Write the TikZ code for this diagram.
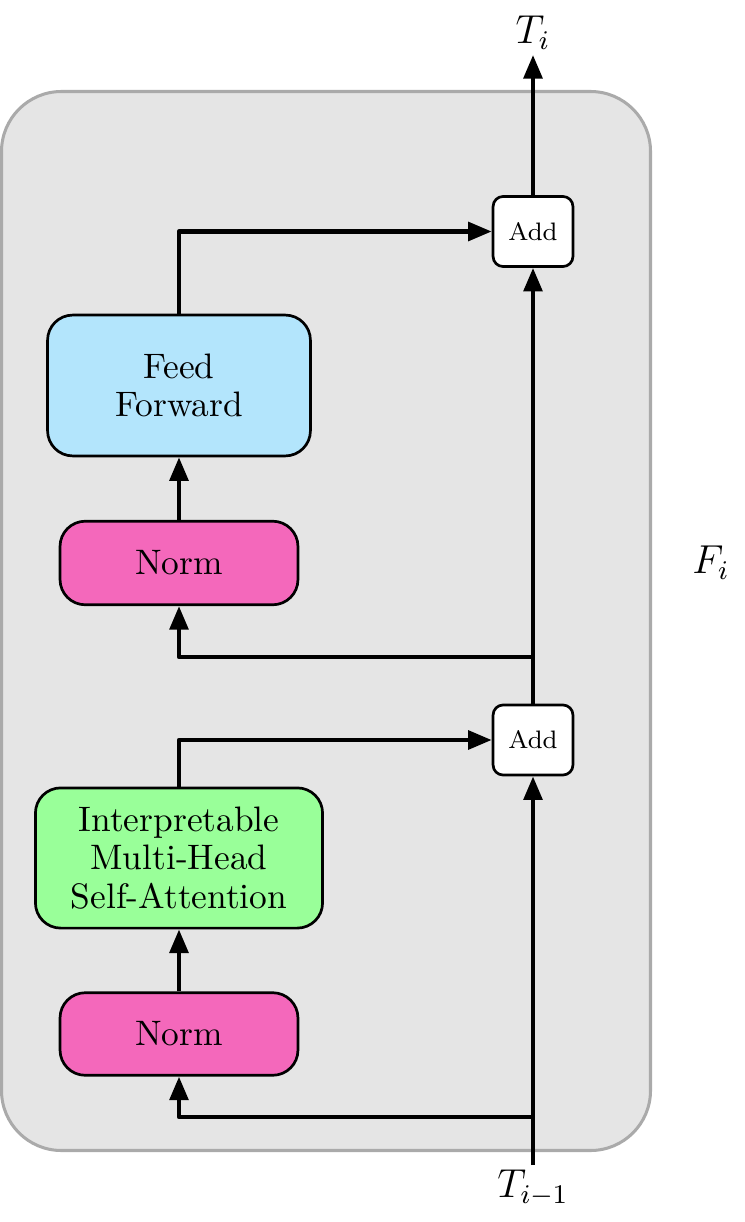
\documentclass[tikz,border=0pt]{standalone}
\usepackage{tikz}
\usetikzlibrary{arrows.meta,calc}
\definecolor{normpink}{HTML}{F468BB}
\definecolor{ffblue}{HTML}{B3E5FC}
\definecolor{attngreen}{HTML}{99FF99}
\definecolor{blockgray}{HTML}{E5E5E5}
\definecolor{blockedge}{HTML}{AAAAAA}
\tikzset{
    layerbox/.style={draw=black,line width=0.8pt,rounded corners=7.5pt,align=center,inner sep=2pt,font=\fontsize{10.5}{11.5}\selectfont},
    addbox/.style={draw=black,fill=white,line width=0.8pt,rounded corners=3pt,minimum width=23.7pt,minimum height=20.8pt,inner sep=1pt,font=\fontsize{7.5}{9}\selectfont},
    flow/.style={line width=1.3pt,-{Triangle[length=7pt,width=5.5pt]}}
}
\begin{document}
\begin{tikzpicture}[line join=round,x=0.2967pt,y=-0.2967pt]
                \useasboundingbox (0,0) rectangle (745,1222);
                \draw [fill=blockgray,draw=blockedge,line width=0.9pt,rounded corners=17.8pt] (1.5,91.5) rectangle (650.5,1150.5);
                % layers
                \node [layerbox,fill=normpink,minimum width=70.6pt,minimum height=24.5pt] (norma) at (179,1034) {Norm};
                \node [layerbox,fill=attngreen,minimum width=85.2pt,minimum height=41.6pt] (attn) at (179,858) {Interpretable\\Multi-Head\\Self-Attention};
                \node [layerbox,fill=normpink,minimum width=70.6pt,minimum height=24.8pt] (normb) at (179,563) {Norm};
                \node [layerbox,fill=ffblue,minimum width=78pt,minimum height=41.8pt] (ff) at (179,385.5) {Feed\\Forward};
                \node [addbox] (adda) at (533,740) {Add};
                \node [addbox] (addb) at (533,231.5) {Add};
                % labels
                \node (tin) at (533,1188) {\large $T_{i-1}$};
                \node (tout) at (533,33) {\large $T_i$};
                \node (fi) at (711,563) {\large $F_i$};
                \coordinate (src) at (533,1165);
                \coordinate (splita) at (533,1117);
                \coordinate (splitb) at (533,657);
                \coordinate (dst) at (533,55);
                % connectors
                \draw [flow] (src) -- (adda.south);
                \draw [flow] (splita) -| (norma.south);
                \draw [flow] (norma.north) -- (attn.south);
                \draw [flow] (attn.north) |- (adda.west);
                \draw [flow] (adda.north) -- (addb.south);
                \draw [flow] (splitb) -| (normb.south);
                \draw [flow] (normb.north) -- (ff.south);
                \draw [flow] (ff.north) |- (addb.west);
                \draw [flow] (addb.north) -- (dst);
\end{tikzpicture}
\end{document}
